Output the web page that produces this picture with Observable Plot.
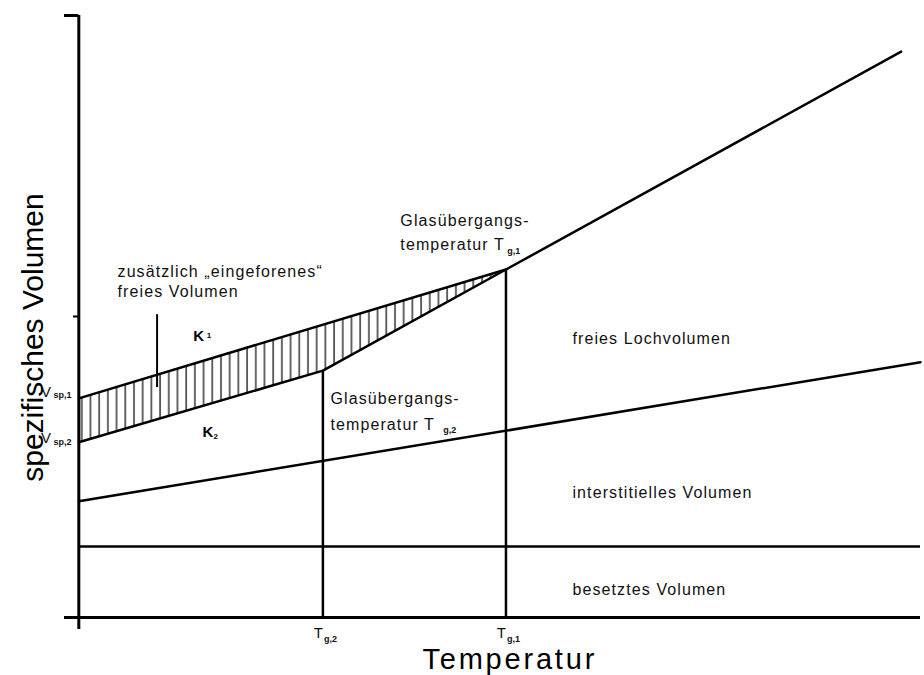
<!DOCTYPE html>
<html><head><meta charset="utf-8">
<script src="https://cdn.jsdelivr.net/npm/d3@7"></script>
<script src="https://cdn.jsdelivr.net/npm/@observablehq/plot@0.6"></script>
<style>
body{margin:0;background:#fff}
g[aria-description="note"] text{letter-spacing:1.1px}
g[aria-description="x-title"] text{letter-spacing:2.8px}
</style></head><body>
<svg width="0" height="0" style="position:absolute"><defs>
<pattern id="hatch" patternUnits="userSpaceOnUse" width="8.7" height="20"><line x1="3" y1="0" x2="3" y2="20" stroke="#555" stroke-width="1.8"/></pattern>
</defs></svg>
<div id="chart"></div>
<script>
// ---- data (arbitrary units: temperature 0..100, specific volume 0..100) ----
const tDomain = [-1.7, 100];
const vDomain = [-2, 100];
const vTicks = [50, 100];
const Tg = [29.0, 50.75];               // Tg,2 , Tg,1
const TgSub = ["g,2", "g,1"];
const VatTg = [41.0, 57.8];             // volume at Tg,2 and Tg,1
const upperT = [0, 50.75, 97.7];        // K1 glass line + melt line
const upperV = [36.4, 57.8, 94.0];
const lowerT = [0, 29.0, 50.75];        // K2 glass line + melt line
const lowerV = [29.1, 41.0, 57.8];
const interT = [0, 100];                // interstitial volume boundary
const interV = [19.3, 42.4];
const occupiedV = 11.8;                 // occupied volume boundary
const pointerT = 9.3, pointerV = [38.2, 50.3];

const notes = [
  {T: 4.6, V: 56.5, s: "zusätzlich „eingeforenes“"},
  {T: 4.6, V: 53.2, s: "freies Volumen"},
  {T: 38.2, V: 65.1, s: "Glasübergangs-"},
  {T: 38.2, V: 61.0, s: "temperatur T"},
  {T: 29.9, V: 35.5, s: "Glasübergangs-"},
  {T: 29.9, V: 31.2, s: "temperatur T"},
  {T: 58.65, V: 45.4, s: "freies Lochvolumen"},
  {T: 58.65, V: 19.8, s: "interstitielles Volumen"},
  {T: 58.65, V: 3.65, s: "besetztes Volumen"}
];
const noteSubs = [
  {T: 50.9, V: 60.3, s: "g,1"},
  {T: 43.3, V: 30.7, s: "g,2"}
];
const kLabels = [{T: 13.6, V: 46.0, s: "K"}, {T: 14.7, V: 29.9, s: "K"}];
const kSubs = [{T: 15.2, V: 46.35, s: "1"}, {T: 16.0, V: 29.57, s: "2"}];
const vLabels = [{T: -4.5, V: 36.7, s: "V"}, {T: -4.5, V: 28.9, s: "V"}];
const vSubs = [{T: -3.0, V: 36.4, s: "sp,1"}, {T: -3.0, V: 28.6, s: "sp,2"}];

// ---- derived tables ----
const pts = (T, V) => T.map((t, i) => ({T: t, V: V[i]}));
const upper = pts(upperT, upperV);
const lower = pts(lowerT, lowerV);
const hatchPoly = [upper[0], upper[1], ...lower.slice().reverse().slice(1)];
const tgRows = Tg.map((t, i) => ({T: t, V: VatTg[i], sub: TgSub[i]}));

const font = "Liberation Sans, Arial, Helvetica, sans-serif";
const chart = Plot.plot({
  width: 924, height: 675,
  marginLeft: 64, marginRight: 4, marginTop: 15, marginBottom: 46,
  x: {domain: tDomain, axis: null},
  y: {domain: vDomain, axis: null},
  style: {background: "white", fontFamily: font, color: "black", overflow: "visible"},
  marks: [
    Plot.line(hatchPoly, {x: "T", y: "V", fill: "url(#hatch)", stroke: "none"}),
    // axes
    Plot.ruleX([0], {y1: vDomain[0], y2: vTicks[1], strokeWidth: 3}),
    Plot.ruleY([0], {x1: tDomain[0], x2: tDomain[1], strokeWidth: 3}),
    Plot.ruleY([vTicks[1]], {x1: tDomain[0], x2: 0, strokeWidth: 3}),
    Plot.ruleY([vTicks[0]], {x1: -0.63, x2: 0, strokeWidth: 2}),
    // curves
    Plot.line(upper, {x: "T", y: "V", strokeWidth: 2.5}),
    Plot.line(lower, {x: "T", y: "V", strokeWidth: 2.5}),
    Plot.line(pts(interT, interV), {x: "T", y: "V", strokeWidth: 2.5}),
    Plot.ruleY([occupiedV], {x1: 0, x2: tDomain[1], strokeWidth: 2.5}),
    Plot.ruleX(tgRows, {x: "T", y1: 0, y2: "V", strokeWidth: 2.5}),
    Plot.ruleX([pointerT], {y1: pointerV[0], y2: pointerV[1], strokeWidth: 2}),
    // annotations
    Plot.text(notes, {x: "T", y: "V", text: "s", textAnchor: "start", lineAnchor: "bottom", fontSize: 16, fill: "#111", ariaDescription: "note"}),
    Plot.text(noteSubs, {x: "T", y: "V", text: "s", textAnchor: "start", lineAnchor: "bottom", fontSize: 9, fontWeight: "bold", fill: "#111"}),
    Plot.text(kLabels, {x: "T", y: "V", text: "s", textAnchor: "start", lineAnchor: "bottom", fontSize: 15, fontWeight: "bold"}),
    Plot.text(kSubs, {x: "T", y: "V", text: "s", textAnchor: "start", lineAnchor: "bottom", fontSize: 8, fontWeight: "bold"}),
    Plot.text(vLabels, {x: "T", y: "V", text: "s", textAnchor: "start", lineAnchor: "bottom", fontSize: 15, fill: "#111"}),
    Plot.text(vSubs, {x: "T", y: "V", text: "s", textAnchor: "start", lineAnchor: "bottom", fontSize: 9, fontWeight: "bold", fill: "#111"}),
    // x tick labels
    Plot.text(tgRows, {x: "T", y: -3.4, text: () => "T", textAnchor: "end", lineAnchor: "bottom", fontSize: 15, fill: "#111"}),
    Plot.text(tgRows, {x: "T", y: -4.1, text: "sub", textAnchor: "start", lineAnchor: "bottom", fontSize: 9, fontWeight: "bold", dx: 1, fill: "#111"}),
    // axis titles
    Plot.text(["Temperatur"], {x: 51.2, y: -8.5, text: d => d, textAnchor: "middle", lineAnchor: "bottom", fontSize: 29, ariaDescription: "x-title"}),
    Plot.text(["spezifisches Volumen"], {x: -4.3, y: 46.5, text: d => d, rotate: -90, textAnchor: "middle", lineAnchor: "bottom", fontSize: 30})
  ]
});
document.getElementById("chart").appendChild(chart);
</script>
</body></html>
